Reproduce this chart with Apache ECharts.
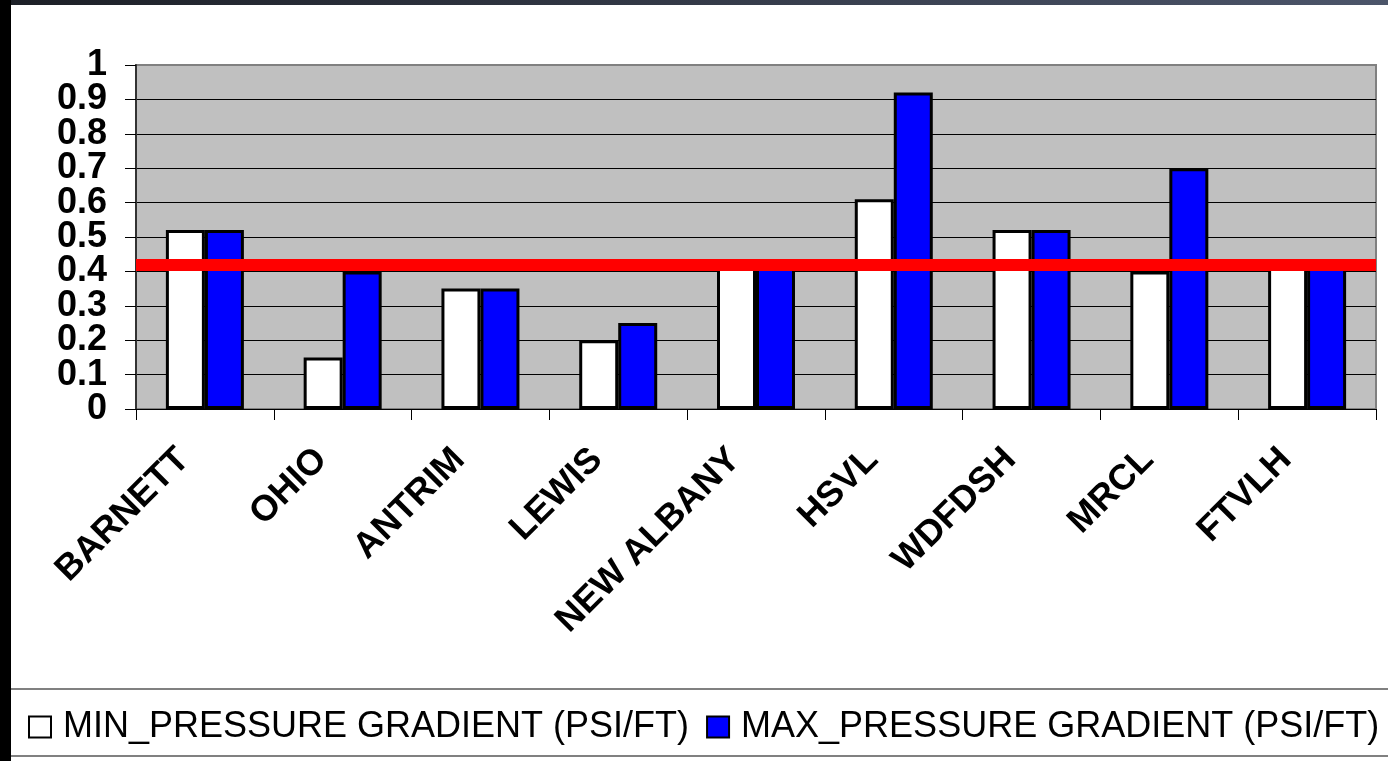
<!DOCTYPE html>
<html>
<head>
<meta charset="utf-8">
<script src="https://cdn.jsdelivr.net/npm/echarts@6/dist/echarts.min.js"></script>
<style>
  html, body { margin: 0; padding: 0; background: #fff; }
  #chart { width: 1388px; height: 761px; }
</style>
</head>
<body>
<div id="chart"></div>
<script>
const categories = ['BARNETT', 'OHIO', 'ANTRIM', 'LEWIS', 'NEW ALBANY', 'HSVL', 'WDFDSH', 'MRCL', 'FTVLH']
const minGradient = [0.52, 0.15, 0.35, 0.20, 0.42, 0.61, 0.52, 0.40, 0.42]
const maxGradient = [0.52, 0.40, 0.35, 0.25, 0.42, 0.92, 0.52, 0.70, 0.42]
const referenceGradient = 0.425
const yTicks = [0, 0.1, 0.2, 0.3, 0.4, 0.5, 0.6, 0.7, 0.8, 0.9, 1]
const seriesNames = ['MIN_PRESSURE GRADIENT (PSI/FT)', 'MAX_PRESSURE GRADIENT (PSI/FT)']

const font = "'Liberation Sans', Arial, sans-serif"
const chart = echarts.init(document.getElementById('chart'))

// labels are tall enough to touch, so even and odd ones sit on two stacked axes
const yLabel = values => ({
  margin: 29,
  customValues: values,
  showMinLabel: true,
  showMaxLabel: true,
  fontFamily: font,
  fontSize: 36,
  fontWeight: 'bold',
  color: '#000',
  formatter: v => String(+v.toFixed(1))
})

chart.setOption({
  animation: false,
  backgroundColor: '#fff',
  graphic: [
    {
      type: 'rect',
      shape: { x: 0, y: 0, width: 1388, height: 5 },
      style: {
        fill: new echarts.graphic.LinearGradient(0, 0, 1, 0, [
          { offset: 0, color: '#1c1f26' },
          { offset: 1, color: '#4c556a' }
        ])
      }
    },
    { type: 'rect', shape: { x: 0, y: 0, width: 11, height: 761 }, style: { fill: '#000' } },
    { type: 'line', shape: { x1: 11, y1: 689, x2: 1388, y2: 689 }, style: { stroke: '#808080', lineWidth: 2 } },
    { type: 'line', shape: { x1: 11, y1: 756, x2: 1388, y2: 756 }, style: { stroke: '#808080', lineWidth: 2 } }
  ],
  grid: {
    left: 136,
    right: 12,
    top: 65,
    bottom: 352,
    show: true,
    backgroundColor: '#c0c0c0',
    borderColor: '#808080',
    borderWidth: 2
  },
  legend: {
    data: seriesNames,
    left: 23,
    top: 704,
    icon: 'rect',
    itemWidth: 22,
    itemHeight: 21,
    itemGap: 17,
    itemStyle: { borderColor: '#000', borderWidth: 2 },
    textStyle: {
      fontFamily: font,
      fontSize: 36,
      color: '#000',
      lineHeight: 36,
      padding: [0, 0, 0, 7]
    }
  },
  xAxis: {
    type: 'category',
    data: categories,
    axisLine: { lineStyle: { color: '#000', width: 1 } },
    axisTick: { show: true, length: 11, lineStyle: { color: '#000', width: 1 } },
    axisLabel: {
      interval: 0,
      rotate: 45,
      margin: 24,
      padding: [0, 30, 0, 0],
      fontFamily: font,
      fontSize: 36,
      fontWeight: 'bold',
      color: '#000'
    }
  },
  yAxis: [
    {
      type: 'value',
      position: 'left',
      min: 0,
      max: 1,
      interval: 0.1,
      axisLine: { show: true, lineStyle: { color: '#333', width: 2 } },
      axisTick: { show: true, length: 11, customValues: yTicks, lineStyle: { color: '#000' } },
      splitLine: { showMaxLine: false, lineStyle: { color: '#000', width: 1 } },
      axisLabel: yLabel(yTicks.filter((v, i) => i % 2 === 0))
    },
    {
      type: 'value',
      position: 'left',
      min: 0,
      max: 1,
      interval: 0.1,
      axisLine: { show: false },
      axisTick: { show: false },
      splitLine: { show: false },
      axisLabel: yLabel(yTicks.filter((v, i) => i % 2 === 1))
    }
  ],
  series: [
    {
      name: seriesNames[0],
      type: 'bar',
      data: minGradient,
      barWidth: 39,
      barGap: '0%',
      itemStyle: { color: '#fff', borderColor: '#000', borderWidth: 3 }
    },
    {
      name: seriesNames[1],
      type: 'bar',
      data: maxGradient,
      barWidth: 39,
      barGap: '0%',
      itemStyle: { color: '#0000ff', borderColor: '#000', borderWidth: 3 }
    },
    {
      name: 'reference',
      type: 'line',
      data: [],
      z: 10,
      markLine: {
        silent: true,
        symbol: 'none',
        label: { show: false },
        lineStyle: { color: '#ff0000', width: 12, type: 'solid' },
        data: [{ yAxis: referenceGradient }]
      }
    }
  ]
})
</script>
</body>
</html>
